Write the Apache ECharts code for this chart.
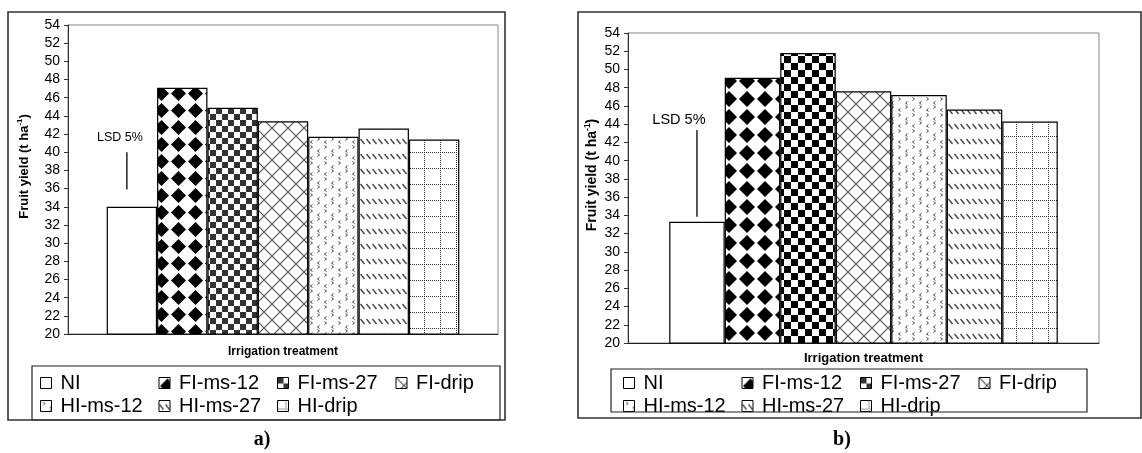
<!DOCTYPE html>
<html>
<head>
<meta charset="utf-8">
<script src="https://cdn.jsdelivr.net/npm/echarts@6/dist/echarts.min.js"></script>
<style>
  html, body { margin: 0; padding: 0; background: #fff; }
  #main { width: 1142px; height: 453px; }
</style>
</head>
<body>
<div id="main"></div>
<script>
// values
var treatments = ['NI', 'FI-ms-12', 'FI-ms-27', 'FI-drip', 'HI-ms-12', 'HI-ms-27', 'HI-drip'];
var yieldA = [34.0, 47.1, 44.9, 43.4, 41.7, 42.6, 41.4];
var yieldB = [33.3, 49.1, 51.8, 47.6, 47.2, 45.6, 44.3];
var lsdA = [35.9, 40.0];   // LSD 5% bar, bottom / top
var lsdB = [33.85, 43.35];
var yMin = 20, yMax = 54, yStep = 2;
var xTitle = 'Irrigation treatment';
var panelLabels = ['a)', 'b)'];

var SANS = 'Liberation Sans, Arial, sans-serif';

// ---- fill patterns (imitating the old excel hatches) ----
function tile(w, h, draw) {
  var c = document.createElement('canvas');
  c.width = w; c.height = h;
  var ctx = c.getContext('2d');
  ctx.fillStyle = '#fff';
  ctx.fillRect(0, 0, w, h);
  draw(ctx, w, h);
  return { image: c, repeat: 'repeat' };
}
function diamonds(s) {
  return tile(s, s, function (ctx) {
    var r = s / 2 - 1, m = s / 2;
    ctx.fillStyle = '#000';
    ctx.beginPath();
    ctx.moveTo(m, m - r); ctx.lineTo(m + r, m); ctx.lineTo(m, m + r); ctx.lineTo(m - r, m);
    ctx.closePath(); ctx.fill();
  });
}
function checker(s, col) {
  return tile(2 * s, 2 * s, function (ctx) {
    ctx.fillStyle = col;
    ctx.fillRect(0, 0, s, s);
    ctx.fillRect(s, s, s, s);
  });
}
function crosshatch(s) {
  return tile(s, s, function (ctx) {
    ctx.strokeStyle = '#555'; ctx.lineWidth = 1.2;
    [-s, 0, s].forEach(function (o) {
      ctx.beginPath();
      ctx.moveTo(o - 1, -1); ctx.lineTo(o + s + 1, s + 1);
      ctx.moveTo(o + s + 1, -1); ctx.lineTo(o - 1, s + 1);
      ctx.stroke();
    });
  });
}
function chevrons() {
  return tile(14, 16, function (ctx) {
    ctx.strokeStyle = '#444'; ctx.lineWidth = 1;
    function ch(x, y, d) {
      ctx.beginPath();
      ctx.moveTo(x, y); ctx.lineTo(x + 2 * d, y + 1.5); ctx.lineTo(x, y + 3);
      ctx.stroke();
    }
    ch(2.5, 1.5, 1); ch(11.5, 5.5, -1); ch(9.5, 9.5, 1); ch(4.5, 12.5, -1);
  });
}
function dashes() {
  return tile(6, 15, function (ctx) {
    ctx.strokeStyle = '#444'; ctx.lineWidth = 1.3;
    ctx.beginPath();
    ctx.moveTo(0.5, 4); ctx.lineTo(4.5, 9);
    ctx.stroke();
  });
}
function dotgrid(s) {
  return tile(s, s, function (ctx) {
    ctx.fillStyle = '#333';
    for (var i = 0; i < s; i += 2) {
      ctx.fillRect(i, Math.floor(s / 2), 1, 1);
      ctx.fillRect(Math.floor(s / 2), i, 1, 1);
    }
  });
}
var fillsA = ['#fff', diamonds(17), checker(6, '#333'), crosshatch(16), chevrons(), dashes(), dotgrid(16)];
var fillsB = ['#fff', diamonds(18), checker(7, '#000'), crosshatch(16), chevrons(), dashes(), dotgrid(16)];

// ---- panel layout ----
var panels = [
  { grid: { left: 68, top: 25, width: 430, height: 309 }, gap: 0.18, vals: yieldA, lsd: lsdA, fills: fillsA,
    lsdShift: -5, lsdText: [-7, -15, 12.5], yName: 13, yGap: 36, xName: 12, xGap: 12, tick: 14,
    legLeft: 40, legTop: [373, 396], box: [32, 366, 468, 54], frame: [8, 12, 497, 408], label: [262, 440] },
  { grid: { left: 628, top: 33, width: 471, height: 310 }, gap: 0.175, vals: yieldB, lsd: lsdB, fills: fillsB,
    lsdShift: 0, lsdText: [-18, -10, 14.5], yName: 14, yGap: 28, xName: 13, xGap: 9, tick: 14,
    legLeft: 623, legTop: [373, 396], box: [611, 369, 476, 43], frame: [578, 12, 563, 406], label: [842, 440] }
];

var grids = [], xAxes = [], yAxes = [], series = [], legends = [], graphics = [];

panels.forEach(function (p, k) {
  grids.push(Object.assign({ show: true, borderColor: '#888', borderWidth: 1, backgroundColor: 'transparent' }, p.grid));
  xAxes.push({
    type: 'category', gridIndex: k, data: [''],
    axisLine: { lineStyle: { color: '#222', width: 1 } },
    axisTick: { show: false }, axisLabel: { show: false },
    name: xTitle, nameLocation: 'middle', nameGap: p.xGap,
    nameTextStyle: { fontFamily: SANS, fontWeight: 'bold', fontSize: p.xName, color: '#000', verticalAlign: 'top' }
  });
  yAxes.push({
    type: 'value', gridIndex: k, min: yMin, max: yMax, interval: yStep,
    axisLine: { show: true, lineStyle: { color: '#333', width: 1 } },
    axisTick: { show: true, length: 4, lineStyle: { color: '#333' } },
    axisLabel: { margin: 8, fontFamily: SANS, fontSize: p.tick, color: '#000' },
    splitLine: { show: false },
    name: '{a|Fruit yield (t ha}{s|-1}{a|)}', nameLocation: 'middle', nameGap: p.yGap, nameRotate: 90,
    nameTextStyle: {
      padding: [0, 0, 0, 26],
      rich: {
        a: { fontFamily: SANS, fontWeight: 'bold', fontSize: p.yName, color: '#000', lineHeight: 16 },
        s: { fontFamily: SANS, fontWeight: 'bold', fontSize: p.yName * 0.6, color: '#000', lineHeight: 16, verticalAlign: 'top', padding: [0, 0, 6, 0] }
      }
    }
  });
  treatments.forEach(function (t, i) {
    series.push({
      type: 'bar', name: t, xAxisIndex: k, yAxisIndex: k,
      data: [p.vals[i]],
      barGap: '0%', barCategoryGap: (p.gap * 100) + '%',
      itemStyle: { color: p.fills[i], borderColor: '#000', borderWidth: 1.2 },
      emphasis: { disabled: true }
    });
  });
  // LSD 5% whisker above the NI bar
  series.push({
    type: 'custom', name: 'lsd' + k, xAxisIndex: k, yAxisIndex: k,
    data: [[0, p.lsd[0], p.lsd[1]]], encode: { x: 0, y: [1, 2] }, z: 5,
    renderItem: function (params, api) {
      var lo = api.coord([api.value(0), api.value(1)]);
      var hi = api.coord([api.value(0), api.value(2)]);
      var band = api.size([1, 0])[0];
      var total = band * (1 - p.gap);
      var bw = total / treatments.length;
      var x = lo[0] - total / 2 + bw / 2 + p.lsdShift;
      return {
        type: 'group', children: [
          { type: 'line', shape: { x1: x, y1: lo[1], x2: x, y2: hi[1] }, style: { stroke: '#000', lineWidth: 1.3 } },
          { type: 'text', style: { text: 'LSD 5%', x: x + p.lsdText[0], y: hi[1] + p.lsdText[1],
            align: 'center', verticalAlign: 'middle', fontFamily: SANS, fontSize: p.lsdText[2], fill: '#000' } }
        ]
      };
    }
  });
  [treatments.slice(0, 4), treatments.slice(4)].forEach(function (names, r) {
    legends.push({
      data: names, left: p.legLeft, top: p.legTop[r], orient: 'horizontal', padding: 0,
      itemWidth: 11, itemHeight: 11, itemGap: 6, icon: 'rect', selectedMode: false,
      itemStyle: { borderColor: '#000', borderWidth: 1 },
      textStyle: { fontFamily: SANS, fontSize: 20, color: '#000', width: 92, lineHeight: 20, padding: [0, 0, 0, 4] }
    });
  });
  graphics.push({
    type: 'rect', z: 100, shape: { x: p.box[0], y: p.box[1], width: p.box[2], height: p.box[3] },
    style: { fill: 'none', stroke: '#222', lineWidth: 1.2 }
  });
  graphics.push({
    type: 'rect', z: 100, shape: { x: p.frame[0], y: p.frame[1], width: p.frame[2], height: p.frame[3] },
    style: { fill: 'none', stroke: '#333', lineWidth: 1.6 }
  });
  graphics.push({
    type: 'text', z: 100, x: p.label[0], y: p.label[1],
    style: { text: panelLabels[k], align: 'center', verticalAlign: 'middle',
      fontFamily: 'Liberation Serif, Times New Roman, serif', fontWeight: 'bold', fontSize: 20, fill: '#000' }
  });
});

var chart = echarts.init(document.getElementById('main'), null, { renderer: 'canvas' });
chart.setOption({
  animation: false,
  backgroundColor: '#fff',
  grid: grids, xAxis: xAxes, yAxis: yAxes,
  legend: legends,
  series: series,
  graphic: graphics
});
</script>
</body>
</html>
